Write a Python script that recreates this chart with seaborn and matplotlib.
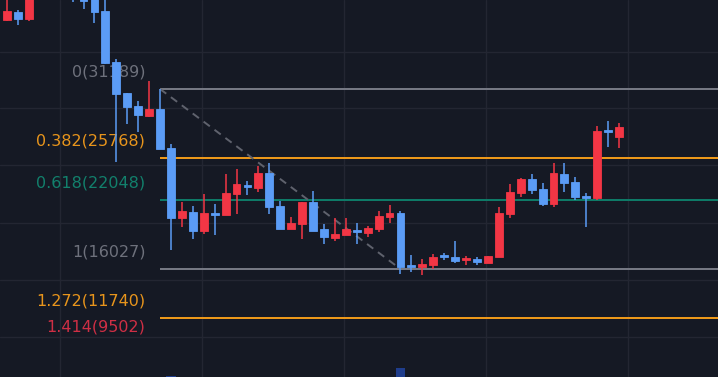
import numpy as np
import pandas as pd
import matplotlib
matplotlib.use("Agg")
import matplotlib.pyplot as plt
import seaborn as sns

# ---- data (prices) ----
opens = [37001, 37675, 37086, 39500, 41500, 40500, 39800, 39360, 38939, 37759,
         33464, 30853, 29758, 28915, 29505, 26220, 20324, 20829, 19229, 20745,
         20577, 22345, 23103, 22851, 24114, 21335, 19397, 19818, 21672, 19397,
         18639, 18892, 19313, 19060, 19397, 20408, 20745, 16365, 16197, 16365,
         17123, 17039, 16786, 16870, 16534, 17039, 20661, 22430, 23609, 22767,
         21503, 24030, 23356, 22177, 22008, 27652, 27146]
highs = [39107, 37844, 39360, 42200, 42500, 41000, 40000, 39500, 39191, 38686,
         33716, 30853, 30179, 31863, 31189, 26557, 21672, 21335, 22345, 21503,
         24030, 24451, 23440, 24704, 24957, 21756, 20408, 21672, 22598, 19818,
         20324, 20324, 19903, 19650, 20913, 21419, 20913, 17207, 16870, 17292,
         17376, 18387, 17123, 17039, 17123, 21250, 23188, 23693, 24030, 23272,
         24957, 24957, 23777, 22430, 28073, 28494, 28326]
lows = [36917, 36580, 36917, 39200, 40000, 39300, 38518, 37928, 36749, 33295,
        25041, 28241, 27568, 28831, 26136, 17628, 19566, 18555, 18976, 18892,
        20577, 20661, 22261, 22514, 20661, 19397, 19397, 18555, 19229, 18134,
        18387, 18892, 18134, 18723, 19145, 19903, 15607, 15775, 15523, 16028,
        16786, 16534, 16365, 16365, 16534, 17039, 20324, 22093, 22345, 21335,
        21250, 22514, 21840, 19566, 21840, 26304, 26220]
closes = [37759, 37086, 38939, 41500, 40500, 39800, 39200, 38602, 37675, 33380,
          30768, 29673, 29000, 29505, 26136, 20324, 20913, 19229, 20745, 20577,
          22430, 23188, 22935, 24114, 21250, 19397, 19903, 21672, 19229, 18723,
          18976, 19397, 19145, 19482, 20492, 20745, 16197, 16197, 16449, 17039,
          17039, 16702, 16955, 16618, 17123, 20745, 22514, 23609, 22682, 21503,
          24114, 23272, 22093, 22008, 27652, 27568, 27989]
volume_idx = [15, 36]
volume_vals = [0.15, 0.95]

fib_ratios = [0, 0.382, 0.618, 1, 1.272, 1.414]
fib_labels = ["0(31189)", "0.382(25768)", "0.618(22048)", "1(16027)",
              "1.272(11740)", "1.414(9502)"]
fib_high = 31189
fib_low = 16027
fib_start = 14
fib_end = 36

df = pd.DataFrame({"open": opens, "high": highs, "low": lows, "close": closes})
df["i"] = np.arange(len(df))
df["up"] = df["close"] >= df["open"]

BG = "#151924"
GRID = "#232632"
UP = "#f23645"
DOWN = "#5b9cf6"
fib_colors = ["#787b86", "#f39c1a", "#0e7d69", "#787b86", "#f39c1a", None]
fib_text_colors = ["#6e717c", "#e8951c", "#12806c", "#6e717c", "#e8951c", "#cf2f45"]

sns.set_theme(style="dark", rc={"axes.facecolor": BG, "figure.facecolor": BG})

fig = plt.figure(figsize=(7.18, 3.77), dpi=100)
ax = fig.add_axes([0, 0, 1, 1])
ax.set_facecolor(BG)

x0 = -0.64
ax.set_xlim(x0, 65.05)
ax.set_ylim(38686 - 84.233 * 377, 38686)

# grid
for gx in [4.85, 17.85, 30.85, 43.85, 56.85]:
    ax.axvline(gx, color=GRID, lw=1, zorder=0)
for gy in [34306, 29589, 24788, 19902, 15101, 10300]:
    ax.axhline(gy, color=GRID, lw=1, zorder=0)

# volume on twin axis
vax = ax.twinx()
vax.set_ylim(0, 40)
vax.bar(volume_idx, volume_vals, width=0.85, color="#1f3d8c",
        edgecolor="none", linewidth=0, zorder=1)
vax.set_axis_off()
ax.set_zorder(vax.get_zorder() + 1)
ax.patch.set_visible(False)
vax.patch.set_visible(False)
fig.patch.set_facecolor(BG)

# fib levels
span = fib_high - fib_low
for r, lab, lc, tc in zip(fib_ratios, fib_labels, fib_colors, fib_text_colors):
    lvl = fib_high - r * span
    if lc is not None:
        ax.hlines(lvl, fib_start, 70, color=lc, lw=1.4, zorder=2)
    ax.text(12.65, lvl + 17 * 84.233, lab, color=tc, fontsize=11.5, ha="right",
            va="center", zorder=1)

# diagonal dashed
sns.lineplot(x=[fib_start, fib_end], y=[fib_high, fib_low], ax=ax,
             color="#5f626d", lw=1.4, linestyle=(0, (4, 3)), zorder=2)

# candles
for _, row in df.iterrows():
    c = UP if row["up"] else DOWN
    ax.vlines(row["i"], row["low"], row["high"], color=c, lw=1.1, zorder=3)
    bot = min(row["open"], row["close"])
    h = abs(row["close"] - row["open"])
    h = max(h, 150)
    ax.bar(row["i"], h, bottom=bot, width=0.72, color=c, edgecolor=c,
           lw=0.6, zorder=4)

ax.set_xticks([])
ax.set_yticks([])
for s in ax.spines.values():
    s.set_visible(False)
if ax.get_legend():
    ax.get_legend().remove()

fig.savefig("out.png", dpi=100, facecolor=BG)
